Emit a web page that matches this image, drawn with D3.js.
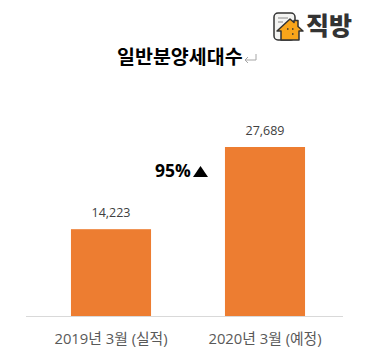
<!DOCTYPE html>
<html lang="ko">
<head>
  <meta charset="UTF-8" />
  <title>일반분양세대수</title>
  <script src="https://d3js.org/d3.v7.min.js"></script>
  <style>
    html, body { margin: 0; background: #fff; }
    svg { display: block; }
    text { font-family: "Open Sans", "Noto Sans CJK KR", sans-serif; }
    .kr { font-family: "Noto Sans CJK KR", sans-serif; }
  </style>
</head>
<body>
  <svg id="chart" width="382" height="363"></svg>

  <script>
    const categories = ["2019년 3월 (실적)", "2020년 3월 (예정)"];
    const values = [14223, 27689];
    const title = "일반분양세대수";
    const growthLabel = "95%";

    const svg = d3.select("#chart");

    const x = d3.scaleBand()
      .domain(categories)
      .range([34, 342])
      .paddingInner(0.48)
      .paddingOuter(0.24);

    const y = d3.scaleLinear()
      .domain([0, 27689])
      .range([316, 147]);

    const axis = svg.append("g")
      .attr("transform", "translate(0,316)")
      .call(d3.axisBottom(x).tickSize(0).tickPadding(17));
    // baseline runs a bit past the band range on the left
    axis.select(".domain")
      .attr("d", "M26 0.5H343")
      .attr("stroke", "#d9d9d9")
      .attr("stroke-width", 1.2);
    axis.selectAll("text")
      .attr("font-family", null)
      .attr("font-size", 14.8)
      .attr("fill", "#595959");

    svg.selectAll("rect.bar")
      .data(values)
      .join("rect")
      .attr("class", "bar")
      .attr("x", (d, i) => x(categories[i]))
      .attr("y", d => y(d))
      .attr("width", x.bandwidth())
      .attr("height", d => y(0) - y(d))
      .attr("fill", "#ed7d31");

    svg.selectAll("text.value")
      .data(values)
      .join("text")
      .attr("class", "value")
      .attr("x", (d, i) => x(categories[i]) + x.bandwidth() / 2)
      .attr("y", d => y(d) - 12)
      .attr("text-anchor", "middle")
      .attr("font-size", 12.5)
      .attr("fill", "#404040")
      .text(d3.format(","));

    // title with the return mark after it
    svg.append("text")
      .attr("class", "kr")
      .attr("x", 117)
      .attr("y", 64)
      .attr("font-size", 19.5)
      .attr("font-weight", 700)
      .attr("fill", "#000")
      .text(title);
    svg.append("path")
      .attr("d", "M256 54v6h-11M248 57l-3 3 3 3")
      .attr("fill", "none")
      .attr("stroke", "#a6a6a6");

    // growth annotation
    svg.append("text")
      .attr("x", 155)
      .attr("y", 177)
      .attr("font-size", 17.5)
      .attr("font-weight", 700)
      .attr("fill", "#000")
      .text(growthLabel);
    svg.append("path")
      .attr("d", "M193 177l7.500-11 7.500 11z")
      .attr("fill", "#000");

    // logo
    const logo = svg.append("g");
    logo.append("rect")
      .attr("x", 274).attr("y", 13)
      .attr("width", 21).attr("height", 27).attr("rx", 4)
      .attr("fill", "#f4f4f2").attr("stroke", "#333").attr("stroke-width", 1.5);
    logo.append("path")
      .attr("d", "M278 18h10M278 22h5")
      .attr("stroke", "#888").attr("stroke-width", 1);
    logo.append("path")
      .attr("d", "M281 40v-9h-4l13-12 4 3.500v-2h4v6l5 4.500h-4v9z")
      .attr("fill", "#f9a51a").attr("stroke", "#333")
      .attr("stroke-width", 1.5).attr("stroke-linejoin", "round");
    logo.append("path")
      .attr("d", "M287 29h1.500M292 29h1.500M292 34h1.500")
      .attr("stroke", "#333").attr("stroke-width", 1.5);
    logo.append("text")
      .attr("class", "kr")
      .attr("x", 306)
      .attr("y", 35)
      .attr("font-size", 25)
      .attr("font-weight", 900)
      .attr("fill", "#333")
      .text("직방");
  </script>
</body>
</html>
